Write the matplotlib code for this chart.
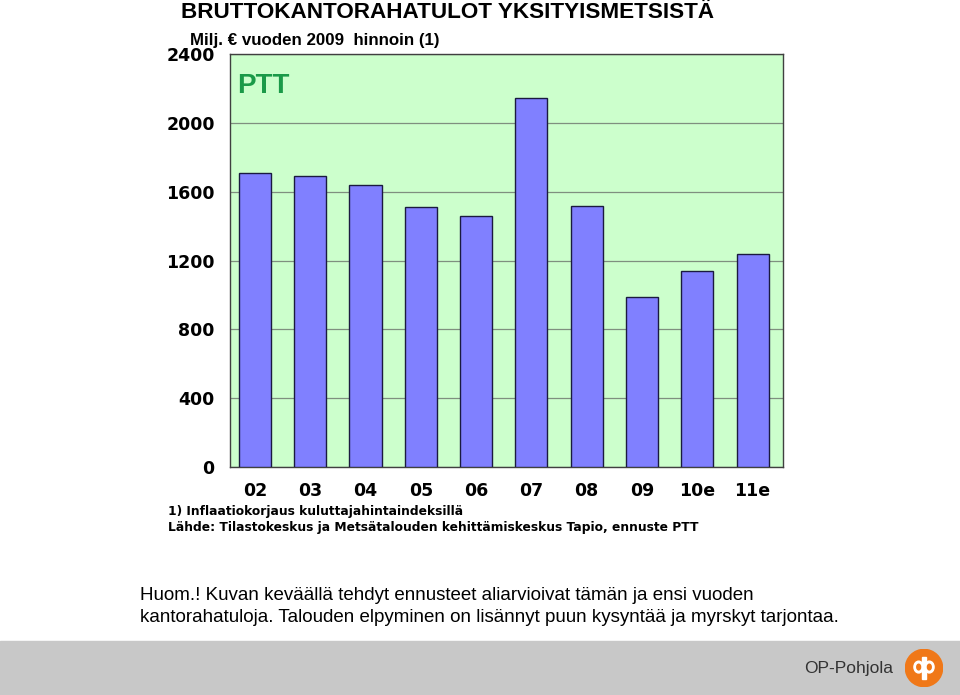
import matplotlib.pyplot as plt
from matplotlib.patches import Circle, Rectangle, Ellipse

plt.rcParams['font.family'] = ['Liberation Sans', 'DejaVu Sans']

years = ['02', '03', '04', '05', '06', '07', '08', '09', '10e', '11e']
income = [1710, 1692, 1640, 1512, 1459, 2145, 1517, 988, 1140, 1238]
yticks = [0, 400, 800, 1200, 1600, 2000, 2400]

W, H = 960, 695
fig = plt.figure(figsize=(W / 100, H / 100), dpi=100)


def fx(px):
    return px / W


def fy(py):
    return 1 - py / H


wide = 'DejaVu Sans'

# bottom band
fig.patches.append(Rectangle((0, 0), 1, fy(641), transform=fig.transFigure,
                             color='#c8c8c8', zorder=-5))

# plot area
ax = fig.add_axes([fx(230), fy(467), fx(783) - fx(230), fy(54) - fy(467)])
ax.set_facecolor('#ccffcc')
ax.bar(range(len(years)), income, width=0.58, color='#8080ff',
       edgecolor='#1a1a40', linewidth=1.0, zorder=3)
ax.set_xlim(-0.45, 9.55)
ax.set_ylim(0, 2400)
ax.set_yticks(yticks)
ax.set_yticklabels([str(v) for v in yticks], fontsize=12.5, fontweight='bold', family=wide)
ax.set_xticks(range(len(years)))
ax.set_xticklabels(years, fontsize=12.5, fontweight='bold', family=wide)
ax.tick_params(axis='both', length=0)
ax.tick_params(axis='y', pad=11)
ax.tick_params(axis='x', pad=11)
ax.grid(axis='y', color='#7f8f7f', linewidth=0.9, zorder=1)
for s in ax.spines.values():
    s.set_color('#404040')
    s.set_linewidth(1.0)

# PTT logo
ax.text(0.013, 0.955, 'PTT', transform=ax.transAxes, fontsize=20,
        fontweight='heavy', color='#1a9a48', va='top', ha='left')

# titles
fig.text(fx(181), fy(13), 'BRUTTOKANTORAHATULOT YKSITYISMETSISTÄ',
         fontsize=16.2, fontweight='bold', va='center', ha='left')
fig.text(fx(190), fy(41), 'Milj. € vuoden 2009  hinnoin (1)',
         fontsize=12.2, fontweight='bold', va='center', ha='left')

# footnotes
fig.text(fx(168), fy(511), '1) Inflaatiokorjaus kuluttajahintaindeksillä',
         fontsize=8.8, fontweight='bold', family=wide, va='center', ha='left')
fig.text(fx(168), fy(528),
         'Lähde: Tilastokeskus ja Metsätalouden kehittämiskeskus Tapio, ennuste PTT',
         fontsize=8.8, fontweight='bold', family=wide, va='center', ha='left')

# note
fig.text(fx(140), fy(596), 'Huom.! Kuvan keväällä tehdyt ennusteet aliarvioivat tämän ja ensi vuoden',
         fontsize=13.5, va='center', ha='left')
fig.text(fx(140), fy(617), 'kantorahatuloja. Talouden elpyminen on lisännyt puun kysyntää ja myrskyt tarjontaa.',
         fontsize=13.5, va='center', ha='left')

fig.text(fx(893), fy(668), 'OP-Pohjola', fontsize=12.5, color='#333333',
         va='center', ha='right')
lax = fig.add_axes([fx(905), fy(687), fx(38), fy(649) - fy(687)])
lax.set_xlim(-1, 1)
lax.set_ylim(-1, 1)
lax.set_aspect('equal')
lax.axis('off')
lax.add_patch(Circle((0, 0), 0.98, color='#f07818'))
lax.add_patch(Ellipse((-0.28, 0.05), 0.5, 0.62, color='white'))
lax.add_patch(Ellipse((0.28, 0.05), 0.5, 0.62, color='white'))
lax.add_patch(Rectangle((-0.09, -0.6), 0.18, 1.2, color='white'))
lax.add_patch(Ellipse((-0.28, 0.05), 0.2, 0.3, color='#f07818'))
lax.add_patch(Ellipse((0.28, 0.05), 0.2, 0.3, color='#f07818'))

fig.savefig('out.png', dpi=100)
